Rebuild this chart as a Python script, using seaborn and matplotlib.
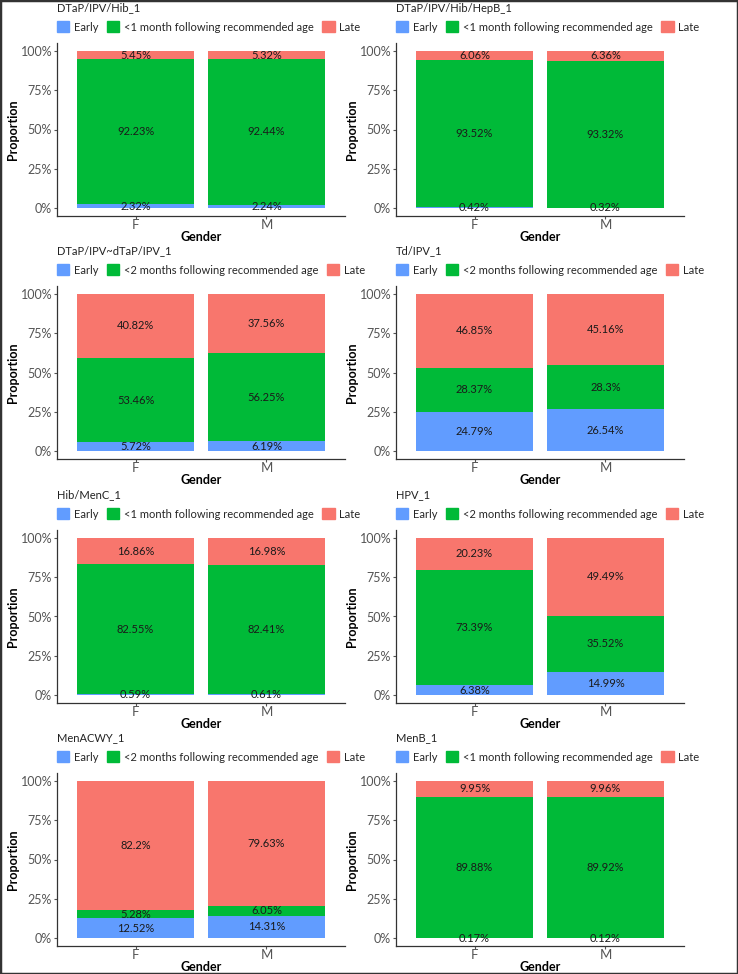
"""
Timeliness of vaccination by gender: stacked proportion bars, one panel per vaccine.
"""

import pandas as pd
import matplotlib.pyplot as plt
from matplotlib.patches import Patch, Rectangle
import seaborn as sns

sns.set_theme(style="white")
plt.rcParams["font.family"] = ["Lato", "DejaVu Sans"]

W, H = 738, 974

titles = ["DTaP/IPV/Hib_1", "DTaP/IPV/Hib/HepB_1", "DTaP/IPV~dTaP/IPV_1", "Td/IPV_1",
          "Hib/MenC_1", "HPV_1", "MenACWY_1", "MenB_1"]
windows = ["<1 month", "<1 month", "<2 months", "<2 months",
           "<1 month", "<2 months", "<2 months", "<1 month"]
genders = ["F", "M"]

early_f = [2.32, 0.42, 5.72, 24.79, 0.59, 6.38, 12.52, 0.17]
early_m = [2.24, 0.32, 6.19, 26.54, 0.61, 14.99, 14.31, 0.12]
ontime_f = [92.23, 93.52, 53.46, 28.37, 82.55, 73.39, 5.28, 89.88]
ontime_m = [92.44, 93.32, 56.25, 28.3, 82.41, 35.52, 6.05, 89.92]
late_f = [5.45, 6.06, 40.82, 46.85, 16.86, 20.23, 82.2, 9.95]
late_m = [5.32, 6.36, 37.56, 45.16, 16.98, 49.49, 79.63, 9.96]

C_EARLY, C_ON, C_LATE = "#619CFF", "#00BA38", "#F8766D"

fig = plt.figure(figsize=(W / 100, H / 100), dpi=100)
fig.patch.set_facecolor("white")
fig.patches.append(Rectangle((0, 0), 1, 1, transform=fig.transFigure, fill=False,
                             edgecolor="#333333", linewidth=2.5))

col_left = [57, 396]
col_width = 288
row_top = [43, 286, 530, 773]
row_h = 173

for i, title in enumerate(titles):
    r, c = divmod(i, 2)
    x0 = col_left[c]
    y_top = row_top[r]
    ax = fig.add_axes([x0 / W, 1 - (y_top + row_h) / H, col_width / W, row_h / H])

    df = pd.DataFrame({
        "Gender": genders,
        "Early": [early_f[i], early_m[i]],
        "OnTime": [ontime_f[i], ontime_m[i]],
        "Late": [late_f[i], late_m[i]],
    })
    df["cum_early"] = df["Early"]
    df["cum_on"] = df["Early"] + df["OnTime"]
    df["cum_late"] = df["cum_on"] + df["Late"]

    # layered cumulative bars -> stacked look
    for col, color in [("cum_late", C_LATE), ("cum_on", C_ON), ("cum_early", C_EARLY)]:
        sns.barplot(data=df, x="Gender", y=col, color=color, width=0.9,
                    saturation=1, errorbar=None, ax=ax, linewidth=0)

    for j, row in df.iterrows():
        for val, bottom in [(row["Early"], 0), (row["OnTime"], row["cum_early"]),
                            (row["Late"], row["cum_on"])]:
            ax.text(j, bottom + val / 2, f"{val:g}%", ha="center", va="center",
                    fontsize=8, color="#1a1a1a")

    ax.set_xlim(-0.6, 1.6)
    ax.set_ylim(-5, 105)
    ax.set_yticks([0, 25, 50, 75, 100])
    ax.set_yticklabels(["0%", "25%", "50%", "75%", "100%"])
    ax.tick_params(axis="both", colors="#555555", labelsize=9, length=2.5, width=0.8,
                   left=True, bottom=True, pad=1)
    ax.tick_params(axis="x", labelsize=9.5, pad=0)
    for s in ["top", "right"]:
        ax.spines[s].set_visible(False)
    for s in ["left", "bottom"]:
        ax.spines[s].set_color("#333333")
        ax.spines[s].set_linewidth(0.9)
    ax.set_xlabel("Gender", fontsize=9, fontweight="bold", color="black", labelpad=0)
    ax.set_ylabel("Proportion", fontsize=9, fontweight="bold", color="black", labelpad=1)

    fig.text(x0 / W, 1 - (y_top - 35) / H, title, fontsize=8, color="#222222",
             ha="left", va="center")
    handles = [Patch(color=C_EARLY, label="Early"),
               Patch(color=C_ON, label=f"{windows[i]} following recommended age"),
               Patch(color=C_LATE, label="Late")]
    fig.legend(handles=handles, loc="center left", ncol=3, frameon=False,
               bbox_to_anchor=(x0 / W, 1 - (y_top - 16) / H), bbox_transform=fig.transFigure,
               fontsize=8, handlelength=1.1, handleheight=1.1, handletextpad=0.4,
               columnspacing=0.8, borderpad=0, borderaxespad=0)

plt.savefig("out.png", dpi=100)
plt.close()
